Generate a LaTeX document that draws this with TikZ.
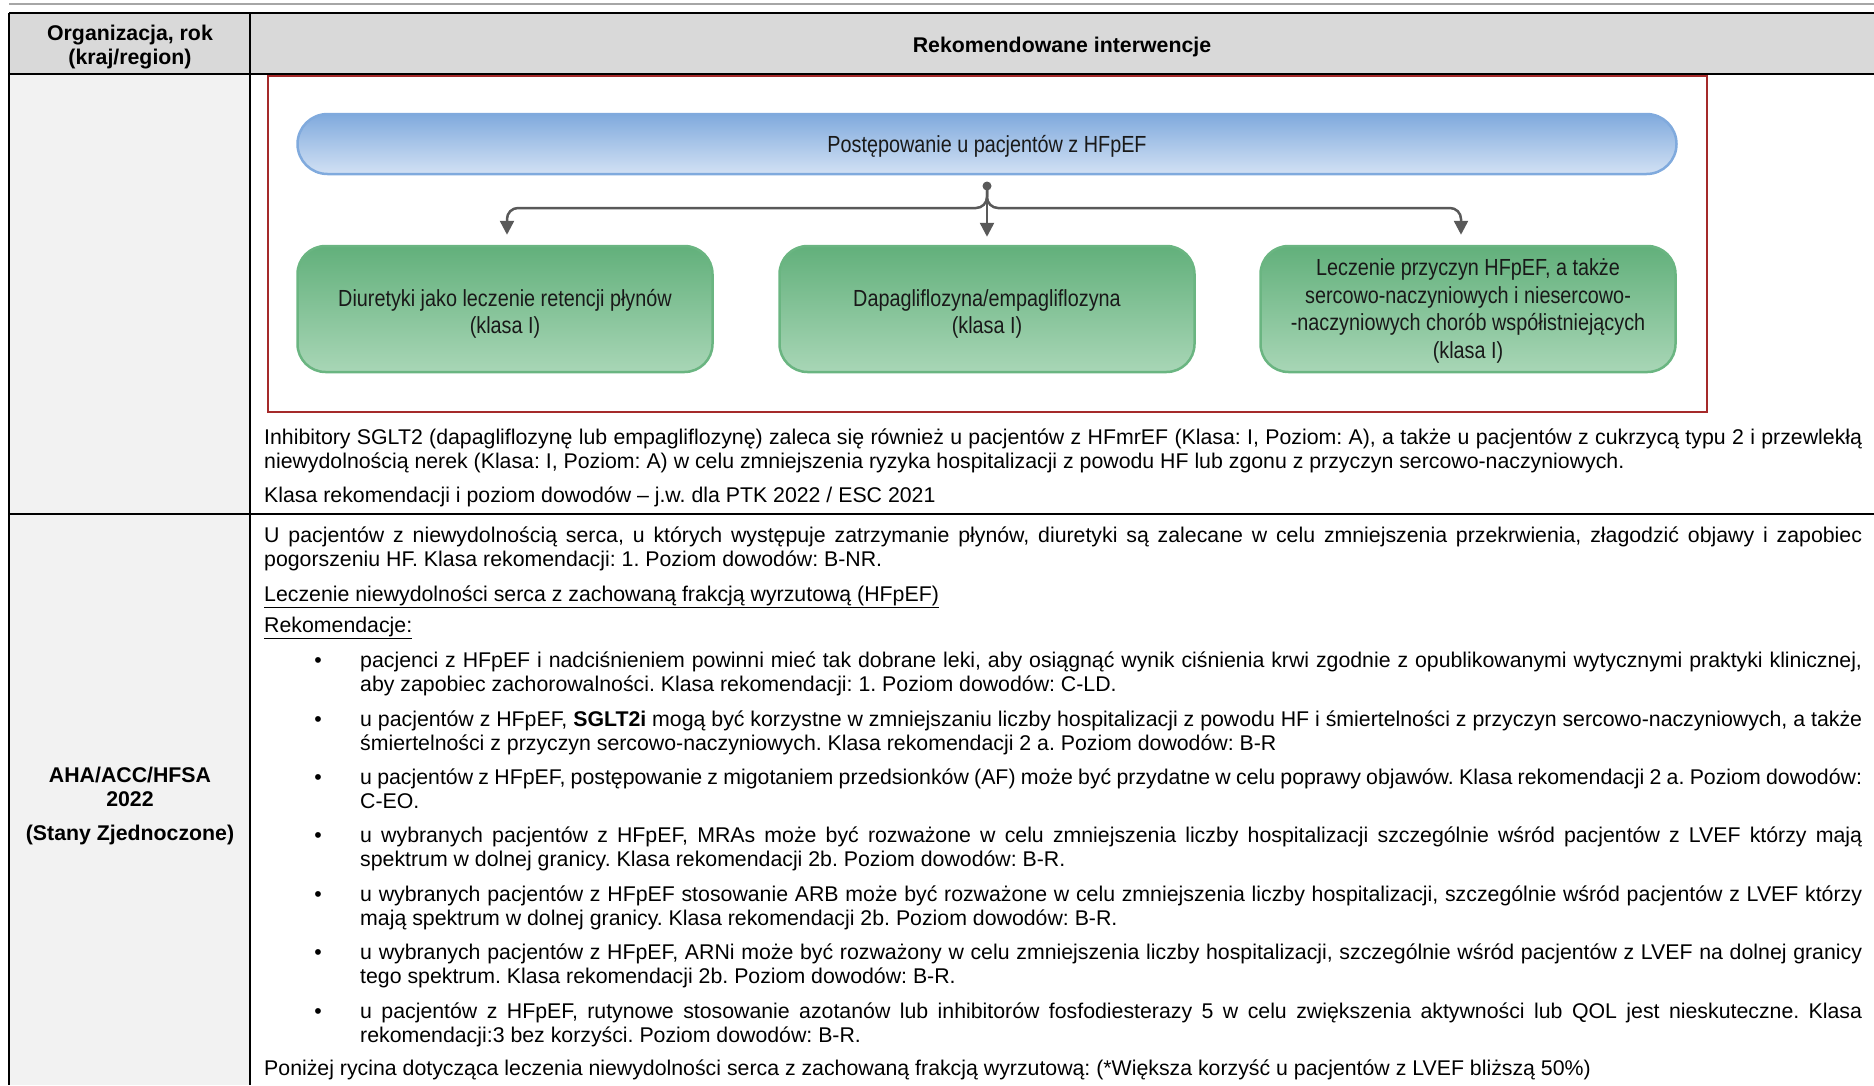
\documentclass[tikz,border=0pt]{standalone}
\usepackage{fontspec}
\setmainfont{Liberation Sans}
\newfontfamily\narrowfont[FakeStretch=0.85]{Liberation Sans}
\usetikzlibrary{arrows.meta,calc,positioning}
\frenchspacing
\definecolor{headgrey}{HTML}{D9D9D9}
\definecolor{colgrey}{HTML}{F2F2F2}
\definecolor{rulegrey}{HTML}{A6A6A6}
\definecolor{framered}{HTML}{A52A2A}
\definecolor{barblue}{HTML}{80AADD}
\definecolor{barlight}{HTML}{D2E1F4}
\definecolor{boxgreen}{HTML}{62B07B}
\definecolor{boxlight}{HTML}{A8D6B6}
\definecolor{boxedge}{HTML}{6AB581}
\definecolor{linkgrey}{HTML}{595959}
\tikzset{>=Latex,
  tablerule/.style={draw=black,line width=2pt},
  bodytext/.style={font=\fontsize{21.3}{24.5}\selectfont,inner sep=0pt,anchor=base west,align=justify},
  headtext/.style={font=\bfseries\fontsize{21.3}{24.5}\selectfont,inner sep=0pt,anchor=base,align=center},
  flowbar/.style={draw=barblue,line width=2.5pt,rounded corners=30pt,top color=barblue,bottom color=barlight,
    minimum width=1379pt,minimum height=60pt},
  greenbox/.style={draw=boxedge,line width=2.5pt,rounded corners=28pt,top color=boxgreen,bottom color=boxlight,
    minimum width=415pt,minimum height=126pt},
  boxtext/.style={align=center,inner sep=0pt,font=\narrowfont\fontsize{23.3}{27.5}\selectfont,text=black!90},
  conn/.style={draw=linkgrey,line width=2.5pt,-{Triangle[length=14pt,width=14pt]}},
  bulletdot/.style={font=\fontsize{21.3}{24.5}\selectfont,inner sep=0pt,anchor=base}}

\begin{document}
\begin{tikzpicture}[x=1pt,y=-1pt]
\useasboundingbox (0,0) rectangle (1874,1085);
% table background
\fill[headgrey] (9,13) rectangle (1874,74);
\fill[colgrey] (9,74) rectangle (250,1085);
\draw[rulegrey,line width=2.5pt] (9,4)--(1874,4);
\draw[tablerule] (9,13)--(1874,13);\draw[tablerule] (9,74)--(1874,74);\draw[tablerule] (9,514)--(1874,514);
\draw[tablerule] (9,13)--(9,1085);\draw[tablerule] (250,13)--(250,1085);
\node[headtext] (org) at (130,64) {Organizacja, rok\\[-0.6pt](kraj/region)};
\node[headtext] (interw) at (1062,52) {Rekomendowane interwencje};
% schemat HFpEF
\draw[framered,line width=2pt] (268,76) rectangle (1707,412);
\node[flowbar] (hfpef) at (987,144) {};
\node[boxtext] (hfpeftxt) at ([yshift=-2pt]hfpef.center) {Postępowanie u pacjentów z HFpEF};
\node[greenbox] (diur) at (505,309) {};
\node[greenbox] (dapa) at (987,309) {};
\node[greenbox] (przyc) at (1468,309) {};
\node[boxtext] (diurtxt) at ([yshift=-5pt]diur.center) {Diuretyki jako leczenie retencji płynów\\(klasa I)};
\node[boxtext] (dapatxt) at ([yshift=-5pt]dapa.center) {Dapagliflozyna/empagliflozyna\\(klasa I)};
\node[boxtext] (przyctxt) at ([yshift=-2pt]przyc.center) {Leczenie przyczyn HFpEF, a także\\sercowo-naczyniowych i niesercowo-\\-naczyniowych chorób współistniejących\\(klasa I)};
\coordinate (split) at (987,186);
\coordinate (bar) at (987,208);
\fill[linkgrey] (split) circle (4.5pt);
\draw[conn] (split)--([yshift=8pt]dapa.north);
\draw[conn,rounded corners=11pt] (split)--(bar)-|([xshift=2pt,yshift=10pt]diur.north);
\draw[conn,rounded corners=11pt] (split)--(bar)-|([xshift=-7pt,yshift=10pt]przyc.north);
\node[bodytext,text width=1598pt] (sglt) at (264,444) {Inhibitory SGLT2 (dapagliflozynę lub empagliflozynę) zaleca się również u pacjentów z HFmrEF (Klasa: I, Poziom: A), a także u pacjentów z cukrzycą typu 2 i przewlekłą\linebreak niewydolnością nerek (Klasa: I, Poziom: A) w celu zmniejszenia ryzyka hospitalizacji z powodu HF lub zgonu z przyczyn sercowo-naczyniowych.};
\node[bodytext] (klasa) at (264,502) {Klasa rekomendacji i poziom dowodów – j.w. dla PTK 2022 / ESC 2021};
% AHA/ACC/HFSA
\node[headtext] (aha) at (130,840) {AHA/ACC/HFSA\\2022\\[9pt](Stany Zjednoczone)};
\node[bodytext,text width=1598pt] (diuret) at (264,542) {U pacjentów z niewydolnością serca, u których występuje zatrzymanie płynów, diuretyki są zalecane w celu zmniejszenia przekrwienia, złagodzić objawy i zapobiec\linebreak pogorszeniu HF. Klasa rekomendacji: 1. Poziom dowodów: B-NR.};
\node[bodytext] (leczenie) at (264,601) {\underline{Leczenie niewydolności serca z zachowaną frakcją wyrzutową (HFpEF)}};
\node[bodytext] (rekom) at (264,632) {\underline{Rekomendacje:}};
\foreach \y [count=\i] in {667,726,784,842,901,959,1018}
  \node[bulletdot] (d\i) at (318,\y) {•};
\node[bodytext,text width=1502pt] (b1) at (360,667) {pacjenci z HFpEF i nadciśnieniem powinni mieć tak dobrane leki, aby osiągnąć wynik ciśnienia krwi zgodnie z opublikowanymi wytycznymi praktyki klinicznej,\linebreak aby zapobiec zachorowalności. Klasa rekomendacji: 1. Poziom dowodów: C-LD.};
\node[bodytext,text width=1502pt] (b2) at (360,726) {u pacjentów z HFpEF, \textbf{SGLT2i} mogą być korzystne w zmniejszaniu liczby hospitalizacji z powodu HF i śmiertelności z przyczyn sercowo-naczyniowych, a także\linebreak śmiertelności z przyczyn sercowo-naczyniowych. Klasa rekomendacji 2 a. Poziom dowodów: B-R};
\node[bodytext,text width=1502pt] (b3) at (360,784) {u pacjentów z HFpEF, postępowanie z migotaniem przedsionków (AF) może być przydatne w celu poprawy objawów. Klasa rekomendacji 2 a. Poziom dowodów:\linebreak C-EO.};
\node[bodytext,text width=1502pt] (b4) at (360,842) {u wybranych pacjentów z HFpEF, MRAs może być rozważone w celu zmniejszenia liczby hospitalizacji szczególnie wśród pacjentów z LVEF którzy mają\linebreak spektrum w dolnej granicy. Klasa rekomendacji 2b. Poziom dowodów: B-R.};
\node[bodytext,text width=1502pt] (b5) at (360,901) {u wybranych pacjentów z HFpEF stosowanie ARB może być rozważone w celu zmniejszenia liczby hospitalizacji, szczególnie wśród pacjentów z LVEF którzy\linebreak mają spektrum w dolnej granicy. Klasa rekomendacji 2b. Poziom dowodów: B-R.};
\node[bodytext,text width=1502pt] (b6) at (360,959) {u wybranych pacjentów z HFpEF, ARNi może być rozważony w celu zmniejszenia liczby hospitalizacji, szczególnie wśród pacjentów z LVEF na dolnej granicy\linebreak tego spektrum. Klasa rekomendacji 2b. Poziom dowodów: B-R.};
\node[bodytext,text width=1502pt] (b7) at (360,1018) {u pacjentów z HFpEF, rutynowe stosowanie azotanów lub inhibitorów fosfodiesterazy 5 w celu zwiększenia aktywności lub QOL jest nieskuteczne. Klasa\linebreak rekomendacji:3 bez korzyści. Poziom dowodów: B-R.};
\node[bodytext] (rycina) at (264,1075) {Poniżej rycina dotycząca leczenia niewydolności serca z zachowaną frakcją wyrzutową: (*Większa korzyść u pacjentów z LVEF bliższą 50\%)};
\end{tikzpicture}
\end{document}
